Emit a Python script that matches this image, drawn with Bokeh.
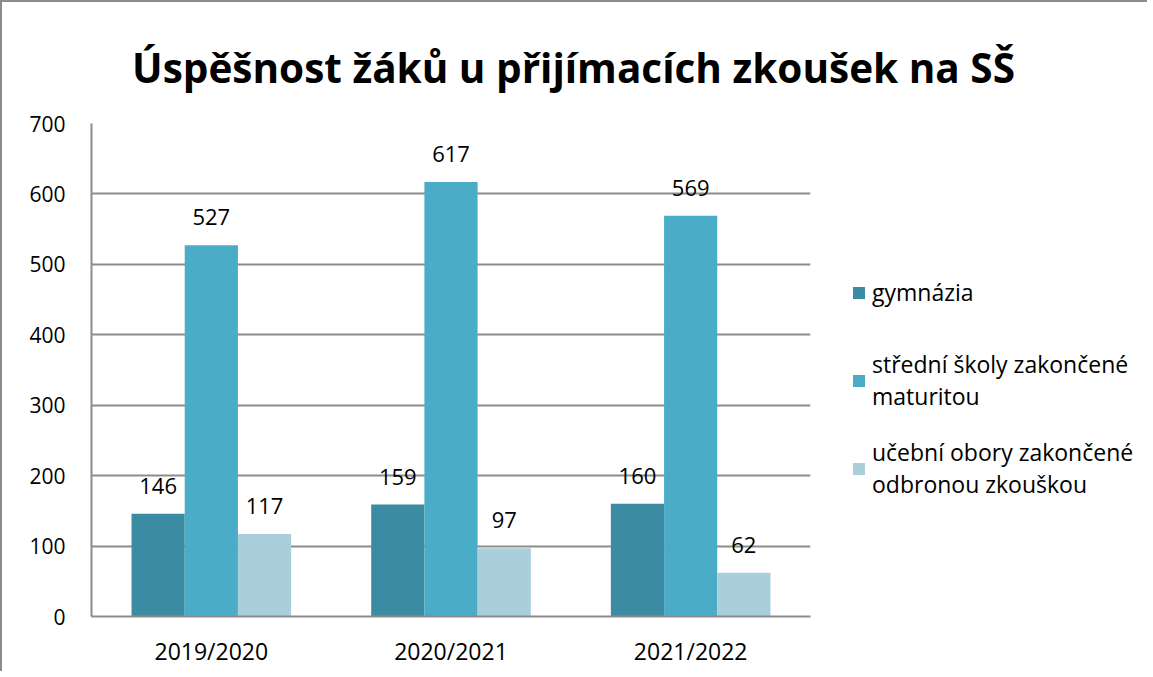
from bokeh.plotting import figure
from bokeh.models import ColumnDataSource, FactorRange, Legend, LegendItem, Range1d, Label
from bokeh.layouts import row, column
from bokeh.transform import dodge
from bokeh.core.properties import value
from bokeh.embed import file_html
from bokeh.resources import INLINE

years = ["2019/2020", "2020/2021", "2021/2022"]
gymnazia = [146, 159, 160]
maturitni = [527, 617, 569]
ucebni = [117, 97, 62]
series_names = ["gymnázia", "střední školy zakončené\nmaturitou", "učební obory zakončené\nodbronou zkouškou"]
colors = ["#3b8ca3", "#4aacc6", "#a9cedc"]
title_text = "Úspěšnost žáků u přijímacích zkoušek na SŠ"

FONT = "Open Sans"
GRAY = "#8c8c8c"

src = ColumnDataSource(dict(year=years, g=gymnazia, m=maturitni, u=ucebni,
                            gl=[str(v) for v in gymnazia],
                            ml=[str(v) for v in maturitni],
                            ul=[str(v) for v in ucebni]))

# title strip
tf = figure(width=1145, height=100, output_backend="svg", toolbar_location=None,
            x_range=Range1d(0, 1), y_range=Range1d(0, 1),
            min_border_left=0, min_border_right=0, min_border_top=0, min_border_bottom=0)
tf.axis.visible = False
tf.grid.grid_line_color = None
tf.outline_line_color = None
tf.add_layout(Label(x=571, y=35, x_units="screen", y_units="screen", text=title_text,
                    text_font=FONT, text_font_size="40.5px", text_font_style="bold",
                    text_color="#000000", text_align="center", text_baseline="alphabetic"))

# main chart
p = figure(x_range=FactorRange(*years), y_range=(0, 700), width=816, height=569,
           output_backend="svg", toolbar_location=None,
           min_border_left=89, min_border_right=8, min_border_top=21, min_border_bottom=55)

w = 0.222
offsets = [-w, 0, w]
cols = ["g", "m", "u"]
lcols = ["gl", "ml", "ul"]
for off, c, lc, col in zip(offsets, cols, lcols, colors):
    p.vbar(x=dodge("year", off, range=p.x_range), top=c, width=w, source=src,
           fill_color=col, line_color=None)
    p.text(x=dodge("year", off, range=p.x_range), y=c, text=lc, source=src,
           text_align="center", text_baseline="bottom", y_offset=-20,
           text_font=value(FONT), text_font_size="22px", text_color="#000000")

p.yaxis.ticker = [0, 100, 200, 300, 400, 500, 600, 700]
p.yaxis.major_tick_line_color = None
p.yaxis.minor_tick_line_color = None
p.yaxis.axis_line_color = GRAY
p.yaxis.axis_line_width = 2
p.yaxis.major_label_text_font = FONT
p.yaxis.major_label_text_font_size = "21px"
p.yaxis.major_label_text_color = "#000000"
p.yaxis.major_label_standoff = 20

p.xaxis.major_tick_line_color = None
p.xaxis.axis_line_color = GRAY
p.xaxis.axis_line_width = 2
p.xaxis.major_label_text_font = FONT
p.xaxis.major_label_text_font_size = "23px"
p.xaxis.major_label_text_color = "#000000"
p.xaxis.major_label_standoff = 12

p.xgrid.grid_line_color = None
p.ygrid.grid_line_color = GRAY
p.ygrid.grid_line_width = 2
p.outline_line_color = None

# legend panel (zero-size bars, only their legend swatches show)
q = figure(width=327, height=569, output_backend="svg", toolbar_location=None,
           x_range=FactorRange(*years), y_range=Range1d(0, 700),
           min_border_left=0, min_border_right=0, min_border_top=0, min_border_bottom=0)
q.axis.visible = False
q.grid.grid_line_color = None
q.outline_line_color = None
items = []
for name, c, col in zip(series_names, cols, colors):
    r = q.vbar(x="year", top=c, bottom=c, width=0, source=src, fill_color=col, line_color=None)
    items.append(LegendItem(label=name, renderers=[r]))

legend = Legend(items=items, location=(33, 116), border_line_color=None, background_fill_alpha=0,
                label_text_font=FONT, label_text_font_size="23px", label_text_color="#000000",
                label_text_line_height=1.38, label_height=64,
                glyph_width=15, glyph_height=15, spacing=24, label_standoff=6,
                margin=0, padding=10)
q.add_layout(legend, "center")

layout = column(tf, row(p, q),
                styles={"border-left": "2px solid " + GRAY, "border-top": "2px solid " + GRAY})

open("out.html", "w").write(file_html(layout, INLINE))
